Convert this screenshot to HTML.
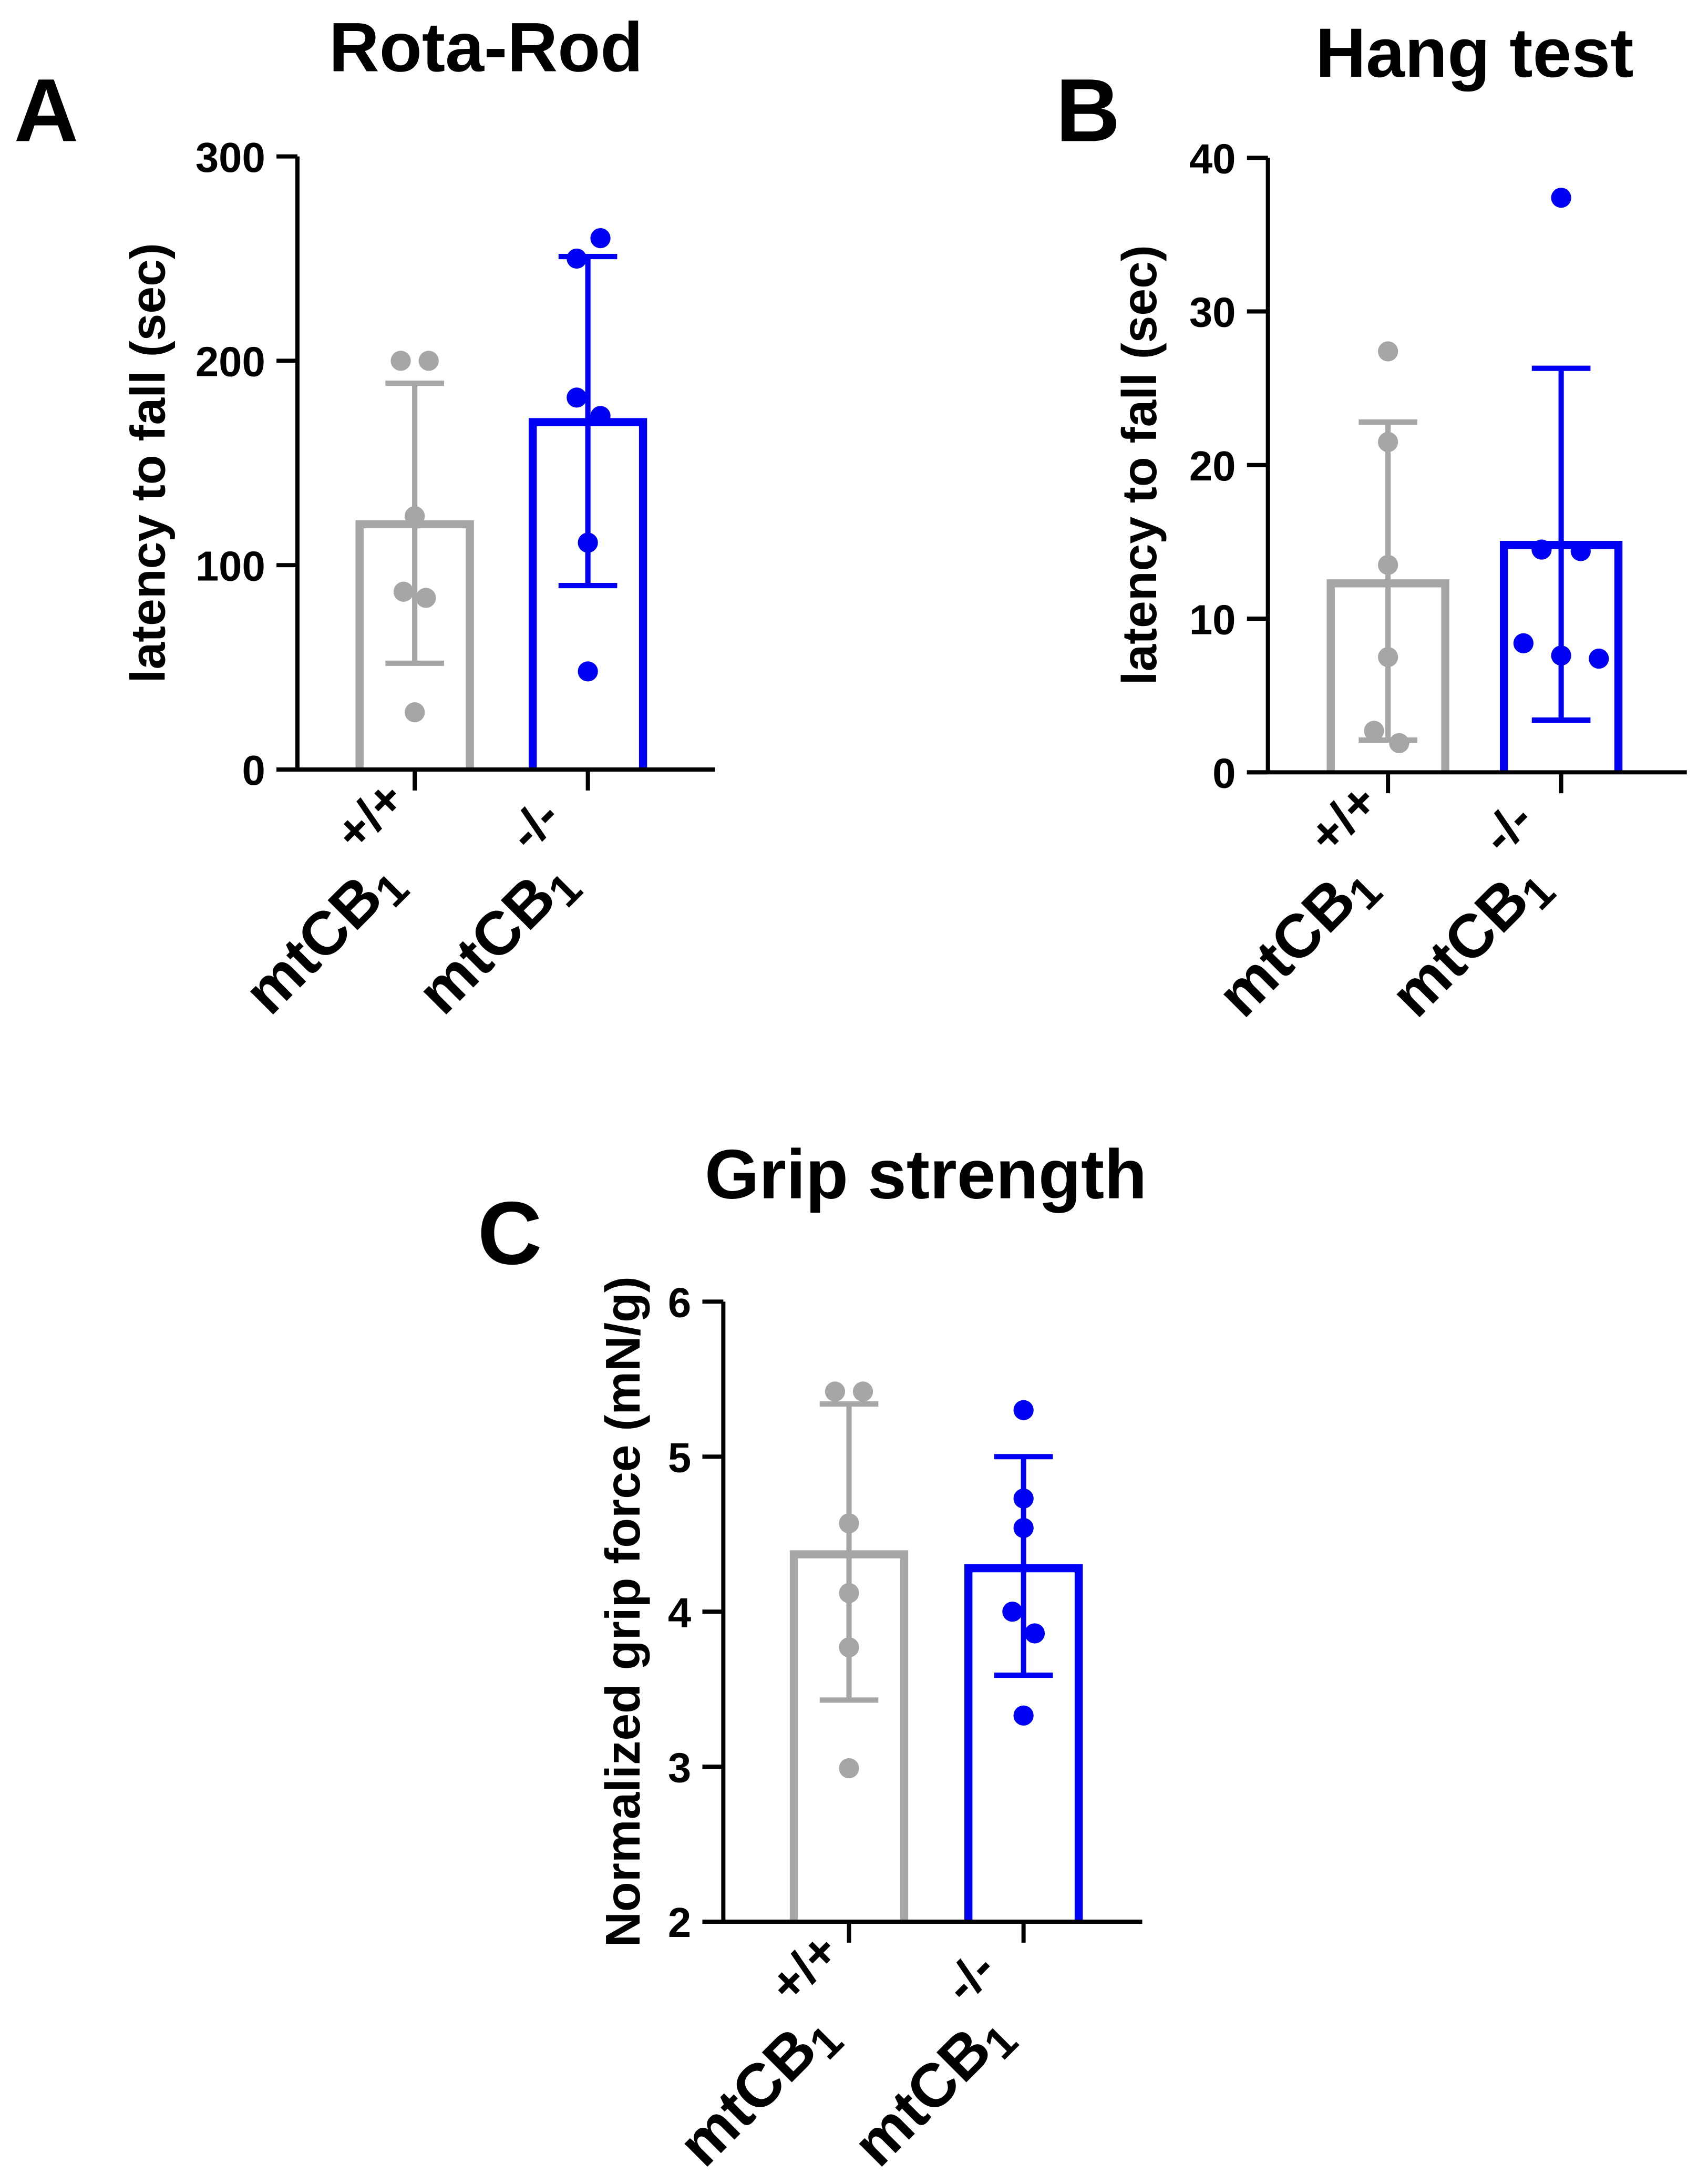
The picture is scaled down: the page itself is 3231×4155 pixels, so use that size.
<!DOCTYPE html>
<html><head><meta charset="utf-8">
<style>html,body{margin:0;padding:0;background:#fff;}svg{display:block;}</style>
</head><body>
<svg id="fig" width="3231" height="4155" viewBox="0 0 1216 1563.8" preserveAspectRatio="none" xmlns="http://www.w3.org/2000/svg" font-family="'Liberation Sans', Arial, sans-serif" font-weight="bold"></svg>
<script>
// ---- data ----
const categories = ["+/+", "-/-"];
// Panel A: Rota-Rod
const rotaMeans = [120, 170];
const rotaSD = [[52, 189], [90, 251]];
const rotaPointsWT = [200, 200, 124, 87, 84, 28];
const rotaPointsKO = [260, 250, 182, 173, 111, 48];
const rotaTicks = [0, 100, 200, 300];
// Panel B: Hang test
const hangMeans = [12.3, 14.8];
const hangSD = [[2.1, 22.8], [3.4, 26.3]];
const hangPointsWT = [27.4, 21.5, 13.5, 7.5, 2.7, 1.9];
const hangPointsKO = [37.4, 14.5, 14.4, 8.4, 7.6, 7.4];
const hangTicks = [0, 10, 20, 30, 40];
// Panel C: Grip strength
const gripMeans = [4.37, 4.28];
const gripSD = [[3.43, 5.34], [3.59, 5.0]];
const gripPointsWT = [5.42, 5.42, 4.57, 4.12, 3.77, 2.99];
const gripPointsKO = [5.3, 4.73, 4.54, 4.0, 3.86, 3.33];
const gripTicks = [2, 3, 4, 5, 6];

const NS = "http://www.w3.org/2000/svg";
const svg = document.getElementById("fig");
const GRAY = "#a6a6a9", BLUE = "#0000f2";
function el(tag, attrs, parent) {
  const e = document.createElementNS(NS, tag);
  for (const k in attrs) e.setAttribute(k, attrs[k]);
  (parent || svg).appendChild(e);
  return e;
}

function panel(cfg) {
  const g = el("g", {});
  
  
  const y = v => cfg.y0 - (v - cfg.min) / (cfg.max - cfg.min) * (cfg.y0 - cfg.yTop);
  const t = el("text", {x: cfg.titleX, y: cfg.titleY, "font-size": 50, "text-anchor": "middle", fill: "#000"}, g);
  t.textContent = cfg.title;
  
  
  const L = el("text", {x: cfg.letterX, y: cfg.letterY, "font-size": 64, fill: "#000"}, g);
  L.textContent = cfg.letter;
  
  
  const cy = (cfg.y0 + cfg.yTop) / 2;
  const yt = el("text", {x: cfg.ylabX, y: cy, "font-size": 35, "text-anchor": "middle", transform: `rotate(-90 ${cfg.ylabX} ${cy})`, fill: "#000"}, g);
  yt.textContent = cfg.ylab;
  
  
  const colors = [GRAY, BLUE];
  const pts = [cfg.wt, cfg.ko];
  const jit = [cfg.jitWT, cfg.jitKO];
  cfg.cx.forEach((cx, i) => {
    const c = colors[i];
    const top = y(cfg.means[i]);
    const b = el("path", {d: `M${cx - cfg.bw / 2} ${cfg.y0} L${cx - cfg.bw / 2} ${top} L${cx + cfg.bw / 2} ${top} L${cx + cfg.bw / 2} ${cfg.y0}`, fill: "none", stroke: c, "stroke-width": 5.8}, g);
    
    
    const lo = y(cfg.sd[i][0]), hi = y(cfg.sd[i][1]);
    const eb = el("path", {d: `M${cx} ${lo} L${cx} ${hi} M${cx - 21} ${lo} L${cx + 21} ${lo} M${cx - 21} ${hi} L${cx + 21} ${hi}`, stroke: c, "stroke-width": 3.8, fill: "none"}, g);
    
    
    pts[i].forEach((v, j) => {
      const p = el("circle", {cx: cx + jit[i][j], cy: y(v), r: 7.2, fill: c}, g);
      
      
    });
  });
  const ax = el("path", {d: `M${cfg.ax} ${cfg.yTop} L${cfg.ax} ${cfg.y0} M${cfg.ax - 15} ${cfg.y0} L${cfg.axEnd} ${cfg.y0}`, stroke: "#000", "stroke-width": 3, fill: "none"}, g);
  
  
  cfg.ticks.forEach(v => {
    const tk = el("line", {x1: cfg.ax - 15, x2: cfg.ax, y1: y(v), y2: y(v), stroke: "#000", "stroke-width": 3}, g);
    
    
    const tl = el("text", {x: cfg.ax - 23, y: y(v) + 11, "font-size": 30, "text-anchor": "end", fill: "#000"}, g);
    tl.textContent = v;
    
    
  });
  cfg.cx.forEach((cx, i) => {
    const tk = el("line", {x1: cx, x2: cx, y1: cfg.y0, y2: cfg.y0 + 15, stroke: "#000", "stroke-width": 3}, g);
    
    
    const mx = cx - 8, my = cfg.y0 + 82;
    const m = el("text", {x: mx, y: my, "font-size": 44, "text-anchor": "end", transform: `rotate(-45 ${mx} ${my})`, fill: "#000"}, g);
    m.textContent = "mtCB";
    const sub = el("tspan", {"font-size": 32, dy: 8}, m);
    sub.textContent = "1";
    
    
    const sx = cx - 42, sy = cfg.y0 + 60;
    const s = el("text", {x: sx, y: sy, "font-size": 36, transform: `rotate(-45 ${sx} ${sy})`, fill: "#000"}, g);
    s.textContent = categories[i];
    
    
  });
}

panel({name: "rota-rod-chart", title: "Rota-Rod", titleX: 348, titleY: 51, letter: "A", letterX: 10, letterY: 101,
  ylab: "latency to fall (sec)", ylabX: 118, ax: 213, axEnd: 512, yTop: 112, y0: 551, min: 0, max: 300,
  cx: [297, 421], bw: 79, means: rotaMeans, sd: rotaSD, wt: rotaPointsWT, ko: rotaPointsKO, ticks: rotaTicks,
  jitWT: [-10, 10, 0, -8, 8, 0], jitKO: [9, -8, -8, 9, 0, 0]});
panel({name: "hang-test-chart", title: "Hang test", titleX: 1056, titleY: 55, letter: "B", letterX: 756, letterY: 101,
  ylab: "latency to fall (sec)", ylabX: 828, ax: 908, axEnd: 1208, yTop: 113, y0: 553, min: 0, max: 40,
  cx: [994, 1118], bw: 82, means: hangMeans, sd: hangSD, wt: hangPointsWT, ko: hangPointsKO, ticks: hangTicks,
  jitWT: [0, 0, 0, 0, -10, 8], jitKO: [0, -14, 14, -27, 0, 27]});
panel({name: "grip-strength-chart", title: "Grip strength", titleX: 663, titleY: 858, letter: "C", letterX: 342, letterY: 905,
  ylab: "Normalized grip force (mN/g)", ylabX: 458, ax: 518, axEnd: 818, yTop: 932, y0: 1376, min: 2, max: 6,
  cx: [608, 733], bw: 79, means: gripMeans, sd: gripSD, wt: gripPointsWT, ko: gripPointsKO, ticks: gripTicks,
  jitWT: [-10, 10, 0, 0, 0, 0], jitKO: [0, 0, 0, -8, 8, 0]});
</script>
</body></html>
